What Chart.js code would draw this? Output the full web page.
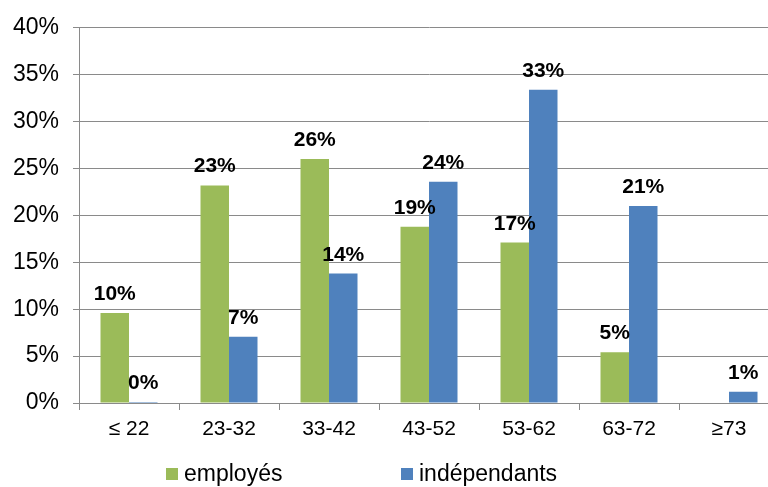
<!DOCTYPE html>
<html>
<head>
<meta charset="utf-8">
<script src="https://cdn.jsdelivr.net/npm/chart.js@4/dist/chart.umd.min.js"></script>
<style>
  html, body { margin: 0; padding: 0; background: #fff; overflow: hidden; width: 768px; height: 487px; }
  #wrap { width: 780px; height: 487px; }
</style>
</head>
<body>
<div id="wrap"><canvas id="c" width="780" height="487"></canvas></div>
<script>
const categories = ['≤ 22', '23-32', '33-42', '43-52', '53-62', '63-72', '≥73'];
const employes = [9.6, 23.2, 26.0, 18.8, 17.1, 5.4, null];
const independants = [0.1, 7.05, 13.8, 23.6, 33.4, 21.0, 1.2];
const seriesNames = ['employés', 'indépendants'];
const seriesColors = ['#9BBB59', '#4F81BD'];
const yTicks = [0, 5, 10, 15, 20, 25, 30, 35, 40];

const FONT = '"Liberation Sans", Arial, sans-serif';
const GRID = '#8a8a8a';

const labelPlugin = {
  id: 'barLabels',
  afterDatasetsDraw(chart) {
    const ctx = chart.ctx;
    ctx.save();
    ctx.font = 'bold 21px ' + FONT;
    ctx.fillStyle = '#000';
    ctx.textAlign = 'center';
    ctx.textBaseline = 'alphabetic';
    chart.data.datasets.forEach((ds, i) => {
      const meta = chart.getDatasetMeta(i);
      meta.data.forEach((el, j) => {
        const v = ds.data[j];
        if (v === null || v === undefined) return;
        ctx.fillText(Math.round(v) + '%', el.x, el.y - 13);
      });
    });
    ctx.restore();
  }
};

const legendPlugin = {
  id: 'customLegend',
  afterDraw(chart) {
    const ctx = chart.ctx;
    const pos = [166, 401];
    ctx.save();
    ctx.font = '23px ' + FONT;
    ctx.textBaseline = 'alphabetic';
    ctx.textAlign = 'left';
    chart.data.datasets.forEach((ds, i) => {
      ctx.fillStyle = ds.backgroundColor;
      ctx.fillRect(pos[i], 468, 12, 12);
      ctx.fillStyle = '#000';
      ctx.fillText(ds.label, pos[i] + 18, 481);
    });
    ctx.restore();
  }
};

new Chart(document.getElementById('c'), {
  type: 'bar',
  data: {
    labels: categories,
    datasets: [
      { label: seriesNames[0], data: employes, backgroundColor: seriesColors[0] },
      { label: seriesNames[1], data: independants, backgroundColor: seriesColors[1] }
    ]
  },
  options: {
    responsive: false,
    devicePixelRatio: 1,
    animation: false,
    datasets: { bar: { categoryPercentage: 0.57, barPercentage: 1.0 } },
    layout: { padding: { top: 24, right: 1, bottom: 34, left: 0 } },
    plugins: { legend: { display: false }, tooltip: { enabled: false } },
    scales: {
      x: {
        grid: { drawOnChartArea: false, drawTicks: true, offset: true, tickLength: 7, color: GRID },
        border: { color: GRID, width: 1 },
        ticks: { font: { family: FONT, size: 21 }, color: '#000', padding: 7, maxRotation: 0 },
        afterFit(s) { s.height = 50; }
      },
      y: {
        min: 0, max: 40,
        afterBuildTicks(s) { s.ticks = yTicks.map(v => ({ value: v })); },
        ticks: { font: { family: FONT, size: 23 }, color: '#000', padding: 14, callback: v => v + '%' },
        grid: { color: GRID, tickLength: 6, lineWidth: 1 },
        border: { color: GRID, width: 1 },
        afterFit(s) { s.width = 79; }
      }
    }
  },
  plugins: [labelPlugin, legendPlugin]
});
</script>
</body>
</html>
